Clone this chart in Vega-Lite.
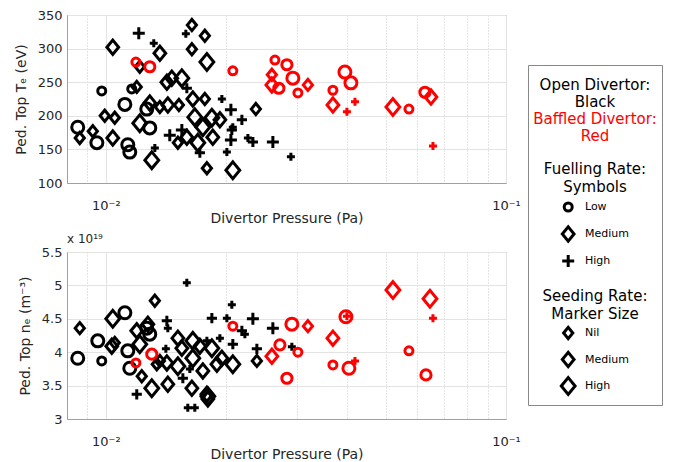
{
"$schema":"https://vega.github.io/schema/vega-lite/v6.json",
"padding":{"left":13,"top":8,"right":5,"bottom":5},
"config":{"font":"DejaVu Sans","view":{"stroke":"#a0a0a0","strokeWidth":1},
"axis":{"labelFont":"DejaVu Sans","labelFontSize":13,"labelColor":"#262626","titleFont":"DejaVu Sans","titleFontSize":14,"titleFontWeight":"normal","titleColor":"#262626","domainColor":"#a0a0a0","gridColor":"#e3e3e3","ticks":false,"labelPadding":5},
"axisY":{"titlePadding":9},
"axisX":{"labelFlush":false,"labelPadding":16,"titlePadding":-1},
"title":{"font":"DejaVu Sans"}},
"datasets":{
"te":[
{"p":0.00851,"v":183,"div":"Open","fuel":"Low","seed":"High"},
{"p":0.0095,"v":160,"div":"Open","fuel":"Low","seed":"High"},
{"p":0.00977,"v":237,"div":"Open","fuel":"Low","seed":"Nil"},
{"p":0.01116,"v":217,"div":"Open","fuel":"Low","seed":"High"},
{"p":0.01135,"v":157,"div":"Open","fuel":"Low","seed":"High"},
{"p":0.01148,"v":146,"div":"Open","fuel":"Low","seed":"High"},
{"p":0.01161,"v":240,"div":"Open","fuel":"Low","seed":"Nil"},
{"p":0.01266,"v":210,"div":"Open","fuel":"Low","seed":"High"},
{"p":0.01288,"v":182,"div":"Open","fuel":"Low","seed":"High"},
{"p":0.00861,"v":167,"div":"Open","fuel":"Medium","seed":"Nil"},
{"p":0.00928,"v":177,"div":"Open","fuel":"Medium","seed":"Nil"},
{"p":0.00994,"v":200,"div":"Open","fuel":"Medium","seed":"Nil"},
{"p":0.01053,"v":197,"div":"Open","fuel":"Medium","seed":"Nil"},
{"p":0.01041,"v":167,"div":"Open","fuel":"Medium","seed":"Medium"},
{"p":0.01041,"v":302,"div":"Open","fuel":"Medium","seed":"Medium"},
{"p":0.01195,"v":243,"div":"Open","fuel":"Medium","seed":"Nil"},
{"p":0.01216,"v":273,"div":"Open","fuel":"Medium","seed":"Nil"},
{"p":0.01365,"v":293,"div":"Open","fuel":"Medium","seed":"Medium"},
{"p":0.01216,"v":189,"div":"Open","fuel":"Medium","seed":"High"},
{"p":0.01288,"v":219,"div":"Open","fuel":"Medium","seed":"Medium"},
{"p":0.01365,"v":213,"div":"Open","fuel":"Medium","seed":"Nil"},
{"p":0.01303,"v":134,"div":"Open","fuel":"Medium","seed":"High"},
{"p":0.01421,"v":250,"div":"Open","fuel":"Medium","seed":"Medium"},
{"p":0.01462,"v":256,"div":"Open","fuel":"Medium","seed":"Medium"},
{"p":0.01549,"v":256,"div":"Open","fuel":"Medium","seed":"High"},
{"p":0.01429,"v":216,"div":"Open","fuel":"Medium","seed":"Medium"},
{"p":0.01523,"v":216,"div":"Open","fuel":"Medium","seed":"Nil"},
{"p":0.0165,"v":225,"div":"Open","fuel":"Medium","seed":"Medium"},
{"p":0.01768,"v":225,"div":"Open","fuel":"Medium","seed":"Nil"},
{"p":0.01641,"v":335,"div":"Open","fuel":"Medium","seed":"Nil"},
{"p":0.01641,"v":299,"div":"Open","fuel":"Medium","seed":"Nil"},
{"p":0.01768,"v":319,"div":"Open","fuel":"Medium","seed":"Nil"},
{"p":0.01789,"v":280,"div":"Open","fuel":"Medium","seed":"High"},
{"p":0.01669,"v":198,"div":"Open","fuel":"Medium","seed":"High"},
{"p":0.01841,"v":197,"div":"Open","fuel":"Medium","seed":"High"},
{"p":0.01748,"v":183,"div":"Open","fuel":"Medium","seed":"High"},
{"p":0.01698,"v":160,"div":"Open","fuel":"Medium","seed":"High"},
{"p":0.01594,"v":168,"div":"Open","fuel":"Medium","seed":"Medium"},
{"p":0.01514,"v":160,"div":"Open","fuel":"Medium","seed":"Nil"},
{"p":0.01851,"v":168,"div":"Open","fuel":"Medium","seed":"Medium"},
{"p":0.01928,"v":194,"div":"Open","fuel":"Medium","seed":"Medium"},
{"p":0.02371,"v":210,"div":"Open","fuel":"Medium","seed":"Nil"},
{"p":0.02077,"v":119,"div":"Open","fuel":"Medium","seed":"High"},
{"p":0.01789,"v":122,"div":"Open","fuel":"Medium","seed":"Nil"},
{"p":0.01209,"v":323,"div":"Open","fuel":"High","seed":"High"},
{"p":0.01318,"v":308,"div":"Open","fuel":"High","seed":"Nil"},
{"p":0.01326,"v":152,"div":"Open","fuel":"High","seed":"Nil"},
{"p":0.01585,"v":322,"div":"Open","fuel":"High","seed":"Nil"},
{"p":0.01594,"v":241,"div":"Open","fuel":"High","seed":"Medium"},
{"p":0.0195,"v":225,"div":"Open","fuel":"High","seed":"Nil"},
{"p":0.02054,"v":209,"div":"Open","fuel":"High","seed":"High"},
{"p":0.02188,"v":194,"div":"Open","fuel":"High","seed":"Medium"},
{"p":0.02077,"v":183,"div":"Open","fuel":"High","seed":"Nil"},
{"p":0.02615,"v":161,"div":"Open","fuel":"High","seed":"High"},
{"p":0.02331,"v":161,"div":"Open","fuel":"High","seed":"Medium"},
{"p":0.02265,"v":167,"div":"Open","fuel":"High","seed":"Nil"},
{"p":0.02054,"v":164,"div":"Open","fuel":"High","seed":"High"},
{"p":0.02007,"v":146,"div":"Open","fuel":"High","seed":"Nil"},
{"p":0.02901,"v":139,"div":"Open","fuel":"High","seed":"Nil"},
{"p":0.01549,"v":179,"div":"Open","fuel":"High","seed":"High"},
{"p":0.01445,"v":171,"div":"Open","fuel":"High","seed":"High"},
{"p":0.01718,"v":145,"div":"Open","fuel":"High","seed":"Medium"},
{"p":0.02065,"v":179,"div":"Open","fuel":"High","seed":"Medium"},
{"p":0.01189,"v":280,"div":"Baffled","fuel":"Low","seed":"Nil"},
{"p":0.01288,"v":273,"div":"Baffled","fuel":"Low","seed":"Medium"},
{"p":0.02077,"v":267,"div":"Baffled","fuel":"Low","seed":"Nil"},
{"p":0.02646,"v":283,"div":"Baffled","fuel":"Low","seed":"Nil"},
{"p":0.02835,"v":276,"div":"Baffled","fuel":"Low","seed":"Medium"},
{"p":0.026,"v":261,"div":"Baffled","fuel":"Medium","seed":"Nil"},
{"p":0.026,"v":246,"div":"Baffled","fuel":"Medium","seed":"Medium"},
{"p":0.02707,"v":241,"div":"Baffled","fuel":"Low","seed":"Medium"},
{"p":0.02934,"v":256,"div":"Baffled","fuel":"Low","seed":"High"},
{"p":0.0302,"v":234,"div":"Baffled","fuel":"Low","seed":"Nil"},
{"p":0.03199,"v":246,"div":"Baffled","fuel":"Medium","seed":"Nil"},
{"p":0.03694,"v":238,"div":"Baffled","fuel":"Low","seed":"Nil"},
{"p":0.03958,"v":265,"div":"Baffled","fuel":"Low","seed":"High"},
{"p":0.04097,"v":249,"div":"Baffled","fuel":"Low","seed":"High"},
{"p":0.03694,"v":216,"div":"Baffled","fuel":"Medium","seed":"Medium"},
{"p":0.04004,"v":206,"div":"Baffled","fuel":"High","seed":"Nil"},
{"p":0.04194,"v":221,"div":"Baffled","fuel":"High","seed":"Nil"},
{"p":0.05217,"v":213,"div":"Baffled","fuel":"Medium","seed":"High"},
{"p":0.05721,"v":210,"div":"Baffled","fuel":"Low","seed":"Nil"},
{"p":0.06273,"v":235,"div":"Baffled","fuel":"Low","seed":"Medium"},
{"p":0.06494,"v":228,"div":"Baffled","fuel":"Medium","seed":"Medium"},
{"p":0.06569,"v":155,"div":"Baffled","fuel":"High","seed":"Nil"}
],
"ne":[
{"p":0.00851,"v":3.91,"div":"Open","fuel":"Low","seed":"High"},
{"p":0.00977,"v":3.87,"div":"Open","fuel":"Low","seed":"Nil"},
{"p":0.00955,"v":4.17,"div":"Open","fuel":"Low","seed":"High"},
{"p":0.01116,"v":4.59,"div":"Open","fuel":"Low","seed":"High"},
{"p":0.01135,"v":4.02,"div":"Open","fuel":"Low","seed":"High"},
{"p":0.01148,"v":3.76,"div":"Open","fuel":"Low","seed":"High"},
{"p":0.01266,"v":4.36,"div":"Open","fuel":"Low","seed":"High"},
{"p":0.01288,"v":4.27,"div":"Open","fuel":"Low","seed":"High"},
{"p":0.00861,"v":4.36,"div":"Open","fuel":"Medium","seed":"Nil"},
{"p":0.01041,"v":4.5,"div":"Open","fuel":"Medium","seed":"High"},
{"p":0.01035,"v":4.09,"div":"Open","fuel":"Medium","seed":"Medium"},
{"p":0.01053,"v":4.14,"div":"Open","fuel":"Medium","seed":"Nil"},
{"p":0.01195,"v":4.32,"div":"Open","fuel":"Medium","seed":"Medium"},
{"p":0.01216,"v":4.12,"div":"Open","fuel":"Medium","seed":"High"},
{"p":0.01274,"v":4.42,"div":"Open","fuel":"Medium","seed":"Medium"},
{"p":0.01326,"v":4.77,"div":"Open","fuel":"Medium","seed":"Nil"},
{"p":0.0123,"v":3.64,"div":"Open","fuel":"Medium","seed":"Nil"},
{"p":0.01303,"v":3.46,"div":"Open","fuel":"Medium","seed":"High"},
{"p":0.01365,"v":3.87,"div":"Open","fuel":"Medium","seed":"Nil"},
{"p":0.01341,"v":3.82,"div":"Open","fuel":"Medium","seed":"Nil"},
{"p":0.01429,"v":3.52,"div":"Open","fuel":"Medium","seed":"Medium"},
{"p":0.01789,"v":3.37,"div":"Open","fuel":"Medium","seed":"Medium"},
{"p":0.01799,"v":3.3,"div":"Open","fuel":"Medium","seed":"Medium"},
{"p":0.01514,"v":4.21,"div":"Open","fuel":"Medium","seed":"Medium"},
{"p":0.01549,"v":4.06,"div":"Open","fuel":"Medium","seed":"Medium"},
{"p":0.0165,"v":4.17,"div":"Open","fuel":"Medium","seed":"High"},
{"p":0.01718,"v":4.09,"div":"Open","fuel":"Medium","seed":"Medium"},
{"p":0.01841,"v":4.06,"div":"Open","fuel":"Medium","seed":"High"},
{"p":0.0165,"v":3.91,"div":"Open","fuel":"Medium","seed":"High"},
{"p":0.01514,"v":3.79,"div":"Open","fuel":"Medium","seed":"High"},
{"p":0.01748,"v":3.72,"div":"Open","fuel":"Medium","seed":"Medium"},
{"p":0.01641,"v":3.46,"div":"Open","fuel":"Medium","seed":"Medium"},
{"p":0.01421,"v":3.84,"div":"Open","fuel":"Medium","seed":"Medium"},
{"p":0.0195,"v":3.91,"div":"Open","fuel":"Medium","seed":"Medium"},
{"p":0.01895,"v":3.82,"div":"Open","fuel":"Medium","seed":"Medium"},
{"p":0.02077,"v":3.82,"div":"Open","fuel":"Medium","seed":"High"},
{"p":0.02385,"v":3.87,"div":"Open","fuel":"Medium","seed":"Nil"},
{"p":0.01799,"v":3.34,"div":"Open","fuel":"Medium","seed":"High"},
{"p":0.01195,"v":3.37,"div":"Open","fuel":"High","seed":"Medium"},
{"p":0.01594,"v":5.04,"div":"Open","fuel":"High","seed":"Nil"},
{"p":0.01421,"v":4.47,"div":"Open","fuel":"High","seed":"Medium"},
{"p":0.01429,"v":4.36,"div":"Open","fuel":"High","seed":"Nil"},
{"p":0.01413,"v":4.05,"div":"Open","fuel":"High","seed":"Nil"},
{"p":0.01603,"v":3.17,"div":"Open","fuel":"High","seed":"Nil"},
{"p":0.01669,"v":3.17,"div":"Open","fuel":"High","seed":"Nil"},
{"p":0.01841,"v":4.51,"div":"Open","fuel":"High","seed":"Medium"},
{"p":0.02007,"v":4.51,"div":"Open","fuel":"High","seed":"Nil"},
{"p":0.02065,"v":4.71,"div":"Open","fuel":"High","seed":"Nil"},
{"p":0.02188,"v":4.32,"div":"Open","fuel":"High","seed":"Medium"},
{"p":0.02226,"v":4.27,"div":"Open","fuel":"High","seed":"Nil"},
{"p":0.02331,"v":4.5,"div":"Open","fuel":"High","seed":"High"},
{"p":0.02615,"v":4.36,"div":"Open","fuel":"High","seed":"High"},
{"p":0.02385,"v":4.05,"div":"Open","fuel":"High","seed":"Medium"},
{"p":0.02077,"v":4.12,"div":"Open","fuel":"High","seed":"Medium"},
{"p":0.01789,"v":4.17,"div":"Open","fuel":"High","seed":"Nil"},
{"p":0.01622,"v":3.75,"div":"Open","fuel":"High","seed":"Nil"},
{"p":0.01558,"v":3.61,"div":"Open","fuel":"High","seed":"Medium"},
{"p":0.01928,"v":4.21,"div":"Open","fuel":"High","seed":"Nil"},
{"p":0.02917,"v":4.08,"div":"Open","fuel":"High","seed":"Nil"},
{"p":0.01189,"v":3.84,"div":"Baffled","fuel":"Low","seed":"Nil"},
{"p":0.01303,"v":3.97,"div":"Baffled","fuel":"Low","seed":"Medium"},
{"p":0.02077,"v":4.39,"div":"Baffled","fuel":"Low","seed":"Nil"},
{"p":0.026,"v":3.94,"div":"Baffled","fuel":"Medium","seed":"Medium"},
{"p":0.02723,"v":4.11,"div":"Baffled","fuel":"Low","seed":"Medium"},
{"p":0.02917,"v":4.42,"div":"Baffled","fuel":"Low","seed":"High"},
{"p":0.0302,"v":4.0,"div":"Baffled","fuel":"Low","seed":"Nil"},
{"p":0.02835,"v":3.61,"div":"Baffled","fuel":"Low","seed":"Medium"},
{"p":0.03199,"v":4.39,"div":"Baffled","fuel":"Medium","seed":"Nil"},
{"p":0.03694,"v":4.21,"div":"Baffled","fuel":"Medium","seed":"Medium"},
{"p":0.03694,"v":3.81,"div":"Baffled","fuel":"Low","seed":"Nil"},
{"p":0.03981,"v":4.53,"div":"Baffled","fuel":"Low","seed":"High"},
{"p":0.04004,"v":4.54,"div":"Baffled","fuel":"High","seed":"Nil"},
{"p":0.0405,"v":3.76,"div":"Baffled","fuel":"Low","seed":"High"},
{"p":0.04194,"v":3.87,"div":"Baffled","fuel":"High","seed":"Nil"},
{"p":0.05217,"v":4.93,"div":"Baffled","fuel":"Medium","seed":"High"},
{"p":0.05721,"v":4.02,"div":"Baffled","fuel":"Low","seed":"Nil"},
{"p":0.06457,"v":4.8,"div":"Baffled","fuel":"Medium","seed":"High"},
{"p":0.06569,"v":4.51,"div":"Baffled","fuel":"High","seed":"Nil"},
{"p":0.0631,"v":3.66,"div":"Baffled","fuel":"Low","seed":"Medium"}
]},
"spacing":6,
"hconcat":[
{"spacing":6,"vconcat":[
{"width":439,"height":168,"data":{"name":"te"},
"mark":{"type":"point","filled":false,"strokeWidth":3,"opacity":1},
"encoding":{
"x":{"field":"p","type":"quantitative","scale":{"type":"log","domain":[0.008,0.1],"nice":false},
"axis":{"values":[0.008,0.009,0.01,0.02,0.03,0.04,0.05,0.06,0.07,0.08,0.09,0.1],"labelExpr":"datum.value == 0.01 ? '10⁻²' : (datum.value == 0.1 ? '10⁻¹' : '')","labelOverlap":false,
"gridDash":{"condition":{"test":"datum.value == 0.01 || datum.value == 0.1","value":[]},"value":[1,2]},
"gridColor":{"condition":{"test":"datum.value == 0.01 || datum.value == 0.1","value":"#e3e3e3"},"value":"#c8c8c8"},
"title":"Divertor Pressure (Pa)"}},
"y":{"field":"v","type":"quantitative","scale":{"domain":[100,350],"nice":false,"zero":false},"axis":{"values":[100,150,200,250,300,350],"format":"d","title":"Ped. Top Tₑ (eV)"}},
"color":{"field":"div","type":"nominal","scale":{"domain":["Open","Baffled"],"range":["#000000","#ff0000"]},"legend":null},
"shape":{"field":"fuel","type":"nominal","scale":{"domain":["Low","Medium","High"],"range":["circle","M-1.15,0L0,-1.4L1.15,0L0,1.4Z","M-1,0L1,0M0,-1L0,1"]},"legend":null},
"size":{"field":"seed","type":"ordinal","scale":{"domain":["Nil","Medium","High"],"range":[64,144,225]},"legend":null}
}},
{"width":439,"height":167,"data":{"name":"ne"},
"title":{"text":"x 10¹⁹","anchor":"start","frame":"group","fontSize":12,"fontWeight":"normal","color":"#262626","offset":0},
"mark":{"type":"point","filled":false,"strokeWidth":3,"opacity":1},
"encoding":{
"x":{"field":"p","type":"quantitative","scale":{"type":"log","domain":[0.008,0.1],"nice":false},
"axis":{"values":[0.008,0.009,0.01,0.02,0.03,0.04,0.05,0.06,0.07,0.08,0.09,0.1],"labelExpr":"datum.value == 0.01 ? '10⁻²' : (datum.value == 0.1 ? '10⁻¹' : '')","labelOverlap":false,
"gridDash":{"condition":{"test":"datum.value == 0.01 || datum.value == 0.1","value":[]},"value":[1,2]},
"gridColor":{"condition":{"test":"datum.value == 0.01 || datum.value == 0.1","value":"#e3e3e3"},"value":"#c8c8c8"},
"title":"Divertor Pressure (Pa)"}},
"y":{"field":"v","type":"quantitative","scale":{"domain":[3,5.5],"nice":false,"zero":false},"axis":{"values":[3,3.5,4,4.5,5,5.5],"format":"~g","title":"Ped. Top nₑ (m⁻³)"}},
"color":{"field":"div","type":"nominal","scale":{"domain":["Open","Baffled"],"range":["#000000","#ff0000"]},"legend":null},
"shape":{"field":"fuel","type":"nominal","scale":{"domain":["Low","Medium","High"],"range":["circle","M-1.15,0L0,-1.4L1.15,0L0,1.4Z","M-1,0L1,0M0,-1L0,1"]},"legend":null},
"size":{"field":"seed","type":"ordinal","scale":{"domain":["Nil","Medium","High"],"range":[64,144,225]},"legend":null}
}}
]},
{"spacing":10,"vconcat":[
{"width":134,"height":39,"view":{"stroke":null},"data":{"values":[]},"mark":"point"},
{"width":134,"height":340,"view":{"stroke":"#888888","strokeWidth":1},
"data":{"values":[
{"sec":"div","slot":"1","text":"Open Divertor:","div":"Open"},
{"sec":"div","slot":"2","text":"Black","div":"Open"},
{"sec":"div","slot":"3","text":"Baffled Divertor:","div":"Baffled"},
{"sec":"div","slot":"4","text":"Red","div":"Baffled"},
{"sec":"fuelhead","slot":"1","text":"Fuelling Rate:","div":"Open"},
{"sec":"fuelhead","slot":"2","text":"Symbols","div":"Open"},
{"sec":"fuel","slot":"1","text":"Low","div":"Open","fuel":"Low","seed":"Nil"},
{"sec":"fuel","slot":"2","text":"Medium","div":"Open","fuel":"Medium","seed":"Medium"},
{"sec":"fuel","slot":"3","text":"High","div":"Open","fuel":"High","seed":"High"},
{"sec":"seedhead","slot":"1","text":"Seeding Rate:","div":"Open"},
{"sec":"seedhead","slot":"2","text":"Marker Size","div":"Open"},
{"sec":"seed","slot":"1","text":"Nil","div":"Open","fuel":"Medium","seed":"Nil"},
{"sec":"seed","slot":"2","text":"Medium","div":"Open","fuel":"Medium","seed":"Medium"},
{"sec":"seed","slot":"3","text":"High","div":"Open","fuel":"Medium","seed":"High"}
]},
"resolve":{"scale":{"y":"independent"}},
"encoding":{"color":{"field":"div","type":"nominal","scale":{"domain":["Open","Baffled"],"range":["#000000","#ff0000"]},"legend":null}},
"layer":[
{"transform":[{"filter":"datum.sec == 'div'"}],
"mark":{"type":"text","align":"center","baseline":"middle","fontSize":15},
"encoding":{"x":{"datum":0.5,"type":"quantitative","scale":{"domain":[0,1],"nice":false,"zero":false},"axis":null},
"y":{"field":"slot","type":"ordinal","scale":{"type":"point","range":[20,71],"padding":0},"axis":null},
"text":{"field":"text"}}},
{"transform":[{"filter":"datum.sec == 'fuelhead'"}],
"mark":{"type":"text","align":"center","baseline":"middle","fontSize":15},
"encoding":{"x":{"datum":0.5,"type":"quantitative","scale":{"domain":[0,1],"nice":false,"zero":false},"axis":null},
"y":{"field":"slot","type":"ordinal","scale":{"type":"point","range":[104,122],"padding":0},"axis":null},
"text":{"field":"text"}}},
{"transform":[{"filter":"datum.sec == 'fuel'"}],
"encoding":{"y":{"field":"slot","type":"ordinal","scale":{"type":"point","range":[142,196],"padding":0},"axis":null}},
"layer":[
{"mark":{"type":"point","filled":false,"strokeWidth":3,"opacity":1},
"encoding":{"x":{"datum":0.3,"type":"quantitative","scale":{"domain":[0,1],"nice":false,"zero":false},"axis":null},
"shape":{"field":"fuel","type":"nominal","scale":{"domain":["Low","Medium","High"],"range":["circle","M-1.15,0L0,-1.4L1.15,0L0,1.4Z","M-1,0L1,0M0,-1L0,1"]},"legend":null},
"size":{"field":"seed","type":"ordinal","scale":{"domain":["Nil","Medium","High"],"range":[64,144,225]},"legend":null}}},
{"mark":{"type":"text","align":"left","baseline":"middle","fontSize":11},
"encoding":{"x":{"datum":0.425,"type":"quantitative","scale":{"domain":[0,1],"nice":false,"zero":false},"axis":null},"text":{"field":"text"}}}
]},
{"transform":[{"filter":"datum.sec == 'seedhead'"}],
"mark":{"type":"text","align":"center","baseline":"middle","fontSize":15},
"encoding":{"x":{"datum":0.5,"type":"quantitative","scale":{"domain":[0,1],"nice":false,"zero":false},"axis":null},
"y":{"field":"slot","type":"ordinal","scale":{"type":"point","range":[231,249],"padding":0},"axis":null},
"text":{"field":"text"}}},
{"transform":[{"filter":"datum.sec == 'seed'"}],
"encoding":{"y":{"field":"slot","type":"ordinal","scale":{"type":"point","range":[268,321],"padding":0},"axis":null}},
"layer":[
{"mark":{"type":"point","filled":false,"strokeWidth":3,"opacity":1},
"encoding":{"x":{"datum":0.3,"type":"quantitative","scale":{"domain":[0,1],"nice":false,"zero":false},"axis":null},
"shape":{"field":"fuel","type":"nominal","scale":{"domain":["Low","Medium","High"],"range":["circle","M-1.15,0L0,-1.4L1.15,0L0,1.4Z","M-1,0L1,0M0,-1L0,1"]},"legend":null},
"size":{"field":"seed","type":"ordinal","scale":{"domain":["Nil","Medium","High"],"range":[64,144,225]},"legend":null}}},
{"mark":{"type":"text","align":"left","baseline":"middle","fontSize":11},
"encoding":{"x":{"datum":0.425,"type":"quantitative","scale":{"domain":[0,1],"nice":false,"zero":false},"axis":null},"text":{"field":"text"}}}
]}
]}
]}
]
}
